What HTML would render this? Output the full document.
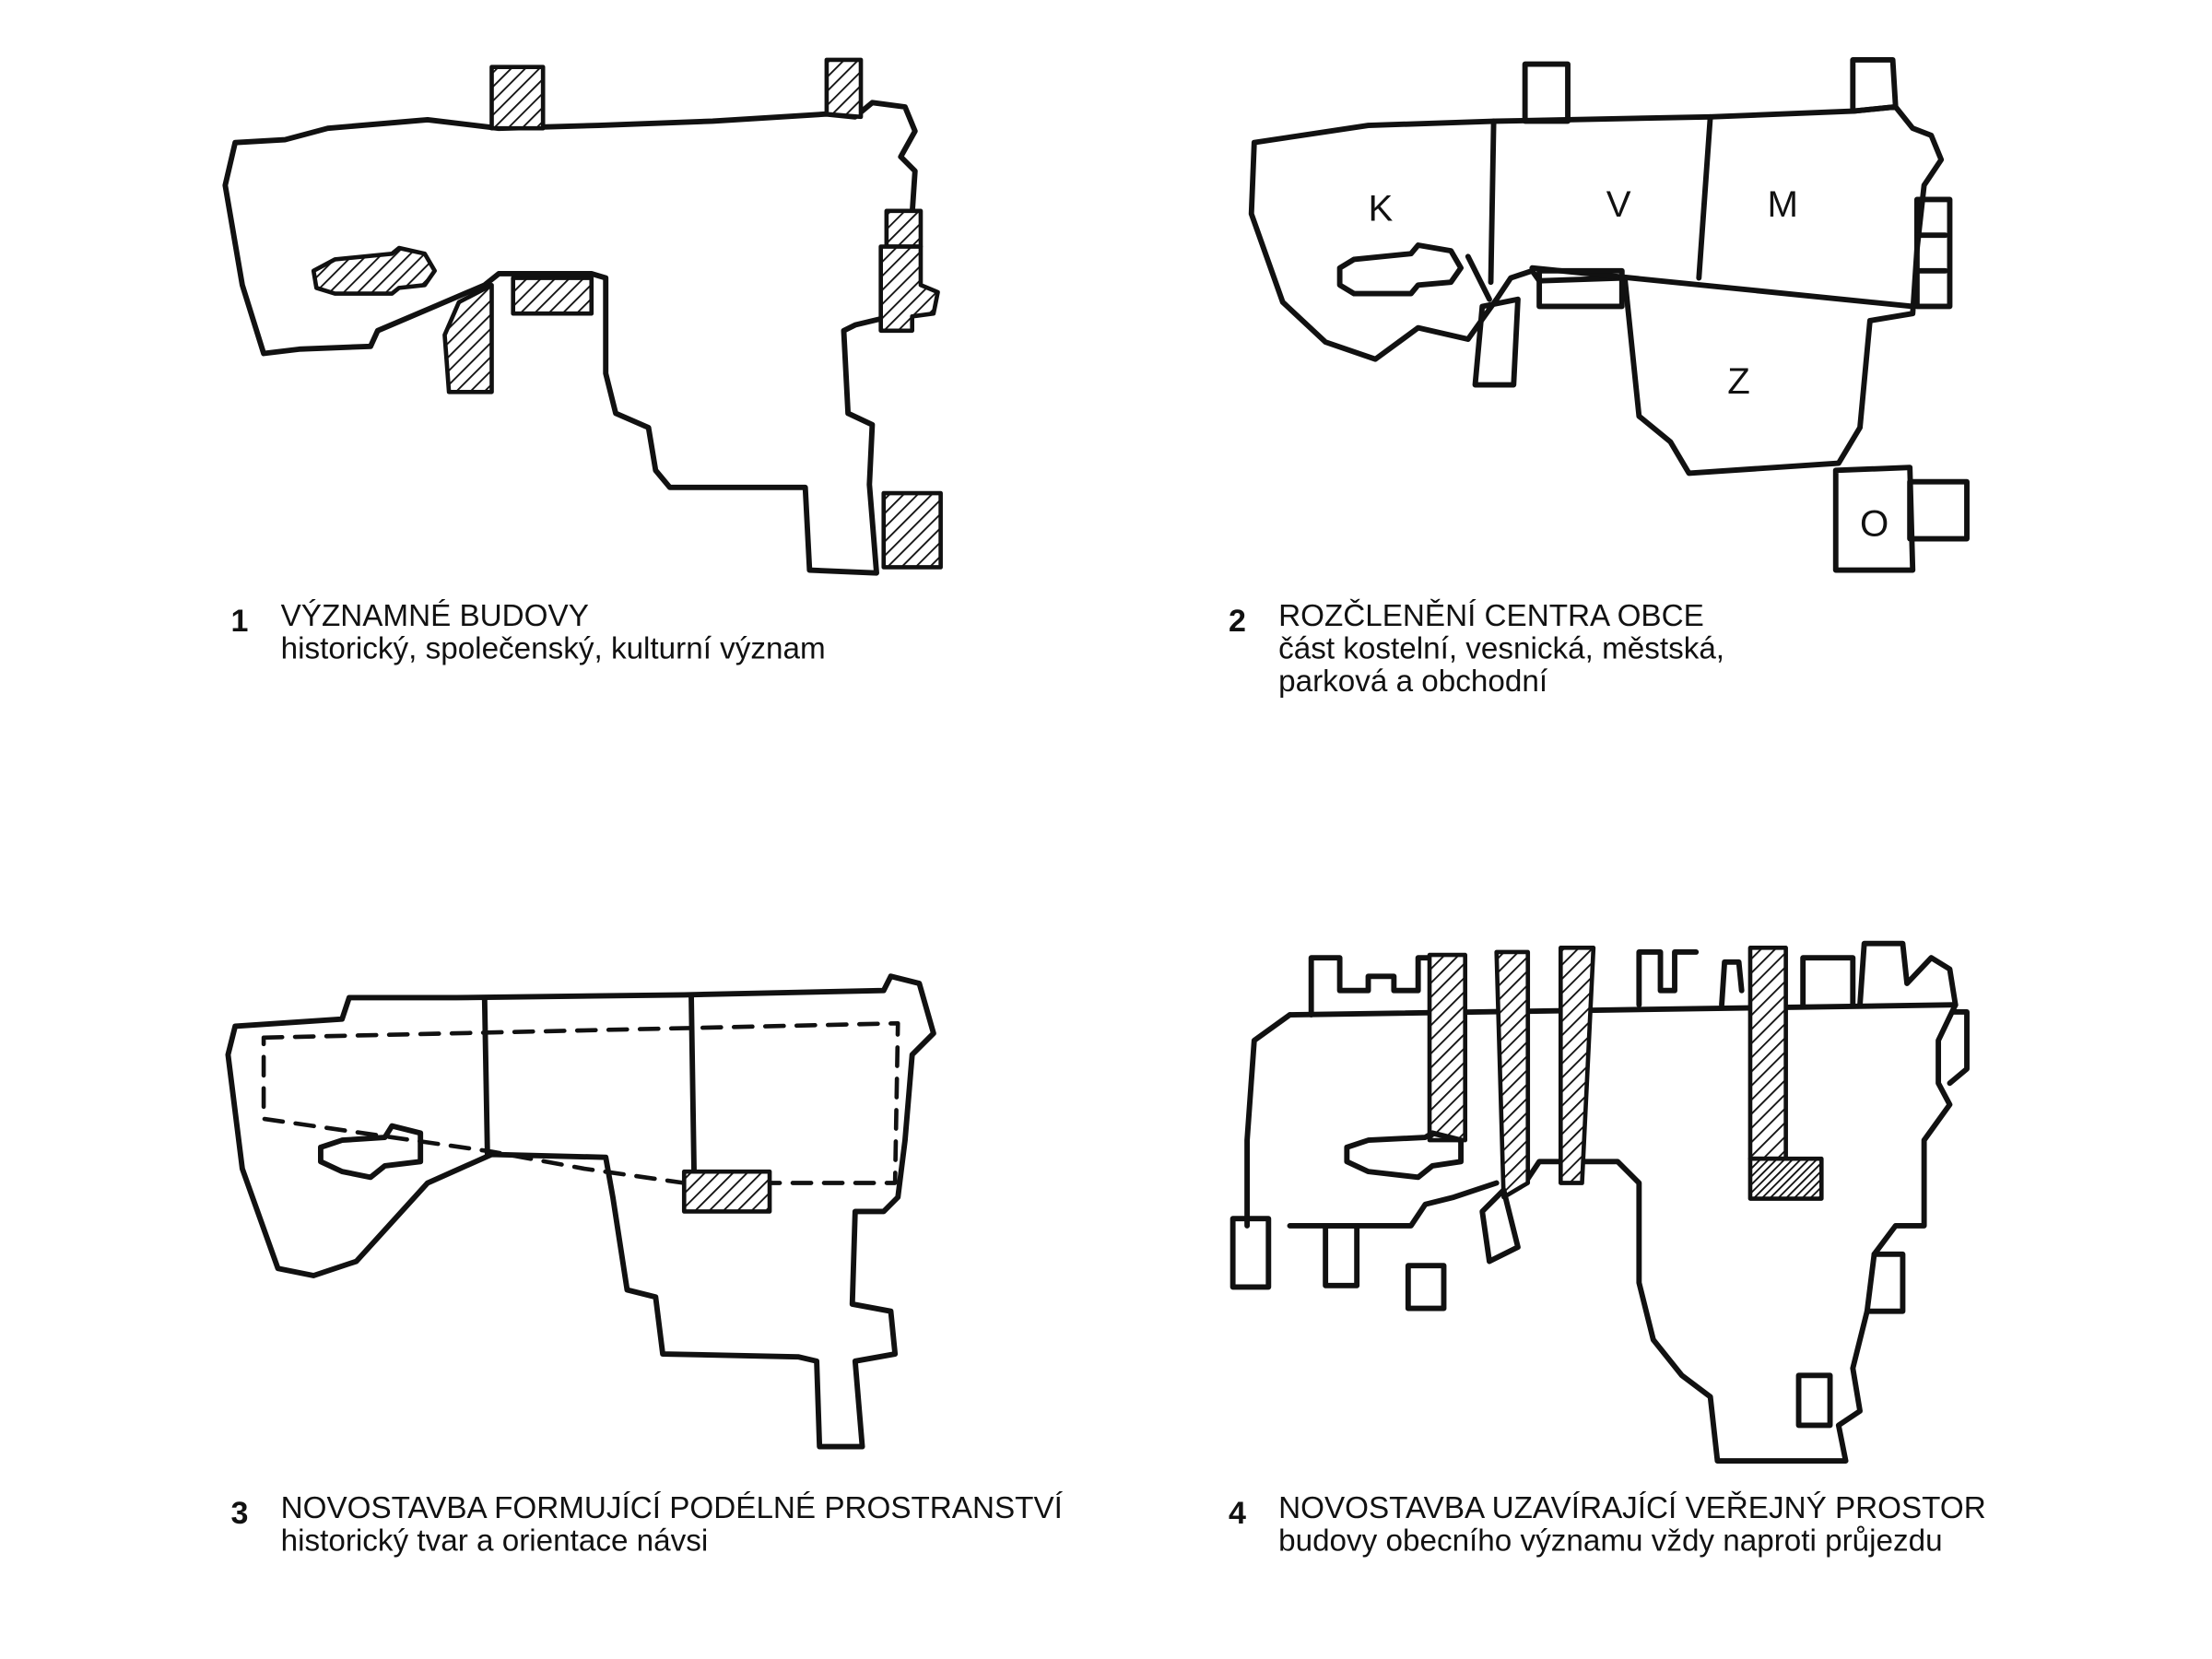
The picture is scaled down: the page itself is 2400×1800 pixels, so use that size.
<!DOCTYPE html>
<html><head><meta charset="utf-8"><style>
html,body{margin:0;padding:0;background:#fff;}
svg{display:block;}
text{font-family:"Liberation Sans",sans-serif;fill:#111;}
</style></head><body>
<svg width="2400" height="1800" viewBox="0 0 1552 1164" xmlns="http://www.w3.org/2000/svg">
<defs>
<pattern id="h" width="7" height="7" patternUnits="userSpaceOnUse" patternTransform="rotate(45)">
<rect width="7" height="7" fill="#fff"/><line x1="0" y1="0" x2="0" y2="7" stroke="#111" stroke-width="2.4"/></pattern>
<pattern id="hd" width="4" height="4" patternUnits="userSpaceOnUse" patternTransform="rotate(45)">
<rect width="4" height="4" fill="#fff"/><line x1="0" y1="0" x2="0" y2="4" stroke="#111" stroke-width="2.4"/></pattern>
</defs>
<g fill="none" stroke="#111" stroke-width="3.8" stroke-linejoin="round" stroke-linecap="round">
<!-- Panel 1 -->
<polygon points="165,100 200,98 230,90 300,84 350,90 420,88 500,85 580,80 600,82 612,72 635,75 642,92 632,110 642,120 640,150 630,172 622,196 625,222 600,228 592,232 595,290 612,298 610,340 615,402 568,400 565,342 470,342 460,330 455,300 432,290 425,262 425,195 415,192 350,192 340,200 305,215 265,232 260,243 210,245 185,248 170,200 158,130"/>
<g fill="url(#h)" stroke-width="3">
<rect x="345" y="47" width="36" height="43"/>
<polygon points="580,42 604,42 604,82 580,80"/>
<rect x="622" y="148" width="24" height="25"/>
<polygon points="618,173 646,173 646,200 658,205 655,220 640,222 640,232 618,232"/>
<rect x="620" y="346" width="40" height="52"/>
<polygon points="235,182 275,178 280,174 298,178 305,190 298,200 280,202 275,206 235,206 222,202 220,190"/>
<rect x="360" y="195" width="55" height="25"/>
<polygon points="322,212 345,200 345,275 315,275 312,235"/>
</g>
<!-- Panel 2 -->
<polygon points="880,100 960,88 1050,85 1200,82 1300,78 1330,75 1342,90 1355,95 1362,112 1350,130 1345,175 1342,220 1312,225 1305,300 1290,325 1185,332 1172,310 1150,292 1140,195 1080,197 1075,190 1060,195 1050,210 1030,238 995,230 965,252 930,240 900,212 878,150"/>
<line x1="1048" y1="85" x2="1046" y2="198"/>
<line x1="1200" y1="82" x2="1192" y2="195"/>
<line x1="1075" y1="188" x2="1342" y2="215"/>
<line x1="1030" y1="180" x2="1045" y2="210"/>
<rect x="1070" y="45" width="30" height="40"/>
<polygon points="1300,42 1328,42 1330,75 1300,78"/>
<rect x="1080" y="190" width="58" height="25"/>
<polygon points="1345,140 1368,140 1368,215 1345,215"/>
<line x1="1345" y1="165" x2="1365" y2="165"/><line x1="1345" y1="190" x2="1365" y2="190"/>
<polygon points="1040,215 1065,210 1062,270 1035,270"/>
<polygon points="950,182 990,178 995,172 1018,176 1025,188 1018,198 995,200 990,206 950,206 940,200 940,188"/>
<polygon points="1288,330 1340,328 1342,400 1288,400"/>
<rect x="1340" y="338" width="40" height="40"/>
<!-- Panel 3 -->
<polygon points="165,720 240,715 245,700 320,700 480,698 620,695 625,685 645,690 655,725 640,740 635,800 630,840 620,850 600,850 598,915 625,920 628,950 600,955 605,1015 575,1015 573,955 560,952 465,950 460,910 440,905 430,840 425,812 345,810 300,830 250,885 220,895 195,890 170,820 160,740"/>
<polygon stroke-width="3" stroke-dasharray="13,9" points="185,728 630,718 628,830 480,830 410,820 345,808 185,785"/>
<line x1="340" y1="700" x2="342" y2="810"/>
<line x1="485" y1="698" x2="487" y2="825"/>
<polygon points="240,800 270,798 275,790 295,795 295,815 270,818 260,826 240,822 225,815 225,805"/>
<rect x="480" y="822" width="60" height="28" fill="url(#h)" stroke-width="3"/>
<!-- Panel 4 -->
<line x1="905" y1="712" x2="1372" y2="705"/>
<polyline points="920,712 920,672 940,672 940,695 960,695 960,685 978,685 978,695 995,695 995,672 1010,672"/>
<polyline points="1150,705 1150,668 1165,668 1165,695 1175,695 1175,668 1190,668"/>
<polyline points="1208,705 1210,675 1220,675 1222,695"/>
<polyline points="1265,705 1265,672 1300,672 1300,705"/>
<polyline points="1305,705 1308,662 1335,662 1338,690 1355,672 1368,680 1372,705"/>
<polyline points="905,712 880,730 875,800 875,860"/>
<polyline points="1372,705 1360,730 1360,760 1368,775 1350,800 1350,860 1330,860 1315,880 1310,920 1300,960 1305,990 1290,1000 1295,1025 1205,1025 1200,980 1180,965 1160,940 1150,900 1150,830 1135,815 1080,815 1070,830"/>
<polyline points="1370,710 1380,710 1380,750 1368,760"/>
<polyline points="1050,830 1020,840 1000,845 990,860 960,860 905,860"/>
<rect x="1003" y="670" width="25" height="130" fill="url(#h)" stroke-width="3"/>
<polygon points="1050,668 1072,668 1072,830 1055,840" fill="url(#h)" stroke-width="3"/>
<polygon points="1095,665 1118,665 1110,830 1095,830" fill="url(#h)" stroke-width="3"/>
<rect x="1228" y="665" width="25" height="148" fill="url(#h)" stroke-width="3"/>
<rect x="1228" y="813" width="50" height="28" fill="url(#hd)" stroke-width="3"/>
<polygon points="960,800 1000,798 1005,795 1025,800 1025,815 1005,818 995,826 960,822 945,815 945,805"/>
<polygon points="1040,850 1055,835 1065,875 1045,885"/>
<rect x="865" y="855" width="25" height="48"/>
<rect x="930" y="860" width="22" height="42"/>
<rect x="988" y="888" width="25" height="30"/>
<rect x="1262" y="965" width="22" height="35"/>
<polyline points="1315,880 1335,880 1335,920 1310,920"/>
</g>
<g fill="#111" font-size="26" font-family="Liberation Sans,sans-serif">
<text x="960" y="155">K</text><text x="1127" y="152">V</text><text x="1240" y="152">M</text><text x="1212" y="276">Z</text><text x="1305" y="376">O</text>
</g>
<g font-size="21.5" style="fill:#222">
<text x="162" y="443" font-size="22" font-weight="bold">1</text>
<text x="197" y="439">VÝZNAMNÉ BUDOVY</text>
<text x="197" y="462">historický, společenský, kulturní význam</text>
<text x="862" y="443" font-size="22" font-weight="bold">2</text>
<text x="897" y="439">ROZČLENĚNÍ CENTRA OBCE</text>
<text x="897" y="462">část kostelní, vesnická, městská,</text>
<text x="897" y="485">parková a obchodní</text>
<text x="162" y="1069" font-size="22" font-weight="bold">3</text>
<text x="197" y="1065">NOVOSTAVBA FORMUJÍCÍ PODÉLNÉ PROSTRANSTVÍ</text>
<text x="197" y="1088">historický tvar a orientace návsi</text>
<text x="862" y="1069" font-size="22" font-weight="bold">4</text>
<text x="897" y="1065">NOVOSTAVBA UZAVÍRAJÍCÍ VEŘEJNÝ PROSTOR</text>
<text x="897" y="1088">budovy obecního významu vždy naproti průjezdu</text>
</g>
</svg>
</body></html>
